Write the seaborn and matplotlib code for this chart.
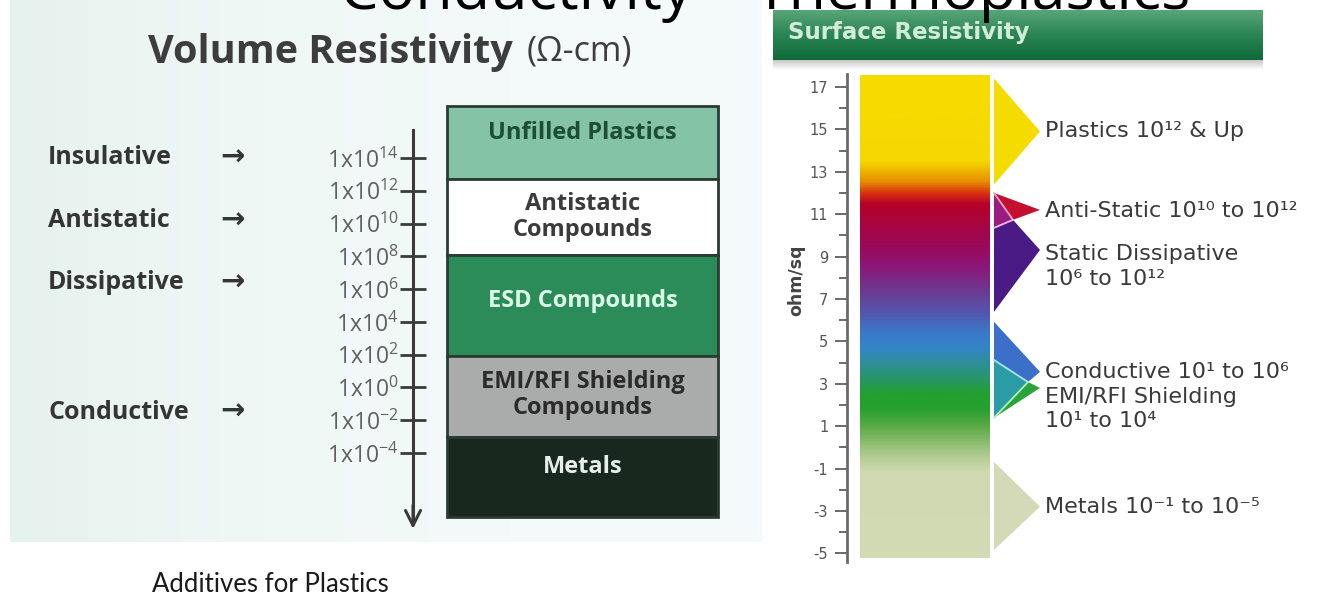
import numpy as np
import matplotlib
matplotlib.use("Agg")
import matplotlib.pyplot as plt
import seaborn as sns
from matplotlib.colors import LinearSegmentedColormap
from matplotlib.patches import Polygon

sns.set_theme(style="ticks")
plt.rcParams['font.family'] = ['Open Sans', 'DejaVu Sans']
plt.rcParams['mathtext.fontset'] = 'custom'
plt.rcParams['mathtext.rm'] = 'Open Sans'
plt.rcParams['mathtext.default'] = 'regular'

W, H = 1331, 600


def rect(x0, y0, x1, y1):
    # pixel box (origin top left) -> figure fraction [l, b, w, h]
    return [x0 / W, 1 - y1 / H, (x1 - x0) / W, (y1 - y0) / H]


# ---------------- data ----------------
# volume resistivity, exponent of ohm-cm
vol_ticks = [14, 12, 10, 8, 6, 4, 2, 0, -2, -4]
vol_classes = ["Insulative", "Antistatic", "Dissipative", "Conductive"]
vol_class_pos = [14, 10.2, 6.4, -1.5]
vol_materials = ["Unfilled Plastics", "Antistatic\nCompounds", "ESD Compounds",
                 "EMI/RFI Shielding\nCompounds", "Metals"]
vol_upper = [17.2, 12.7, 8.1, 1.9, -3.0]
vol_lower = [12.7, 8.1, 1.9, -3.0, -7.9]

# surface resistivity, exponent of ohm/sq
surf_ticks = [17, 15, 13, 11, 9, 7, 5, 3, 1, -1, -3, -5]
surf_minor = [16, 14, 12, 10, 8, 6, 4, 2, 0, -2, -4]
bar_top, bar_bottom = 17.55, -5.2
grad_vals = [-5.2, -1.2, -0.6, 0.2, 0.96, 1.75, 2.55, 3.3, 4.1, 4.7, 5.4, 6.3, 7.3,
             8.5, 9.45, 11.5, 12.0, 12.6, 13.56, 17.55]
grad_cols = ['#d3dbb5', '#d0d9b2', '#b8cf98', '#8cbd70', '#5cab48', '#28a030', '#22a030',
             '#2a9470', '#2e8ea0', '#3485c8', '#3a7ac8', '#5258b0', '#6a3c94',
             '#8a1878', '#9a0a5a', '#b5002a', '#d83010', '#e89000', '#f6d800', '#f6dc00']

rng_labels = ["Plastics 10¹² & Up", "Anti-Static 10¹⁰ to 10¹²",
              "Static Dissipative\n10⁶ to 10¹²", "Conductive 10¹ to 10⁶",
              "EMI/RFI Shielding\n10¹ to 10⁴", "Metals 10⁻¹ to 10⁻⁵"]
rng_label_pos = [14.9, 11.15, 8.54, 3.56, 1.81, -2.8]
plastics_v = [17.4, 14.9, 12.4]              # top, tip, bottom
antistatic_v = [12.0, 11.2, 10.73, 10.35]    # top, tip, fold, bottom
dissipative_v = [10.35, 10.73, 9.31, 6.39]   # top, fold, tip, bottom
conductive_v = [5.92, 3.56, 3.08, 4.12]      # top, tip, fold, seam
emi_v = [4.12, 3.08, 2.80, 1.39]             # seam, fold, tip, bottom
metals_v = [-0.69, -2.8, -4.84]              # top, tip, bottom

# ---------------- figure ----------------
fig = plt.figure(figsize=(W / 100, H / 100), dpi=100)
fig.patch.set_facecolor('white')

# left panel: volume resistivity
ax_v = fig.add_axes(rect(10, 0, 762, 542))
ax_v.set_xlim(10, 762)
ax_v.set_ylim(-9.43, 23.64)
bg = LinearSegmentedColormap.from_list('bg', ['#e6f2ee', '#f0f8f6', '#f3faf9', '#f4fbfa'])
ax_v.imshow(np.linspace(0, 1, 200).reshape(1, -1), cmap=bg, aspect='auto',
            extent=[10, 762, -9.43, 23.64], zorder=0)

vol_colors = ['#84c3a5', '#ffffff', '#2b8c59', '#a9acaa', '#18281f']
vol_text = ['#1d4d36', '#3b3b3b', '#dcfbe9', '#2b2b2b', '#e6efe9']
vol_nudge = [0.55, 0.0, 0.25, 0.1, 0.6]
heights = [u - l for u, l in zip(vol_upper, vol_lower)]
ax_v.bar(582.5, heights, bottom=vol_lower, width=271, color=vol_colors,
         edgecolor='#2b3b32', linewidth=2, zorder=2)
for name, u, l, c, dn in zip(vol_materials, vol_upper, vol_lower, vol_text, vol_nudge):
    ax_v.text(582.5, (u + l) / 2 + dn, name, ha='center', va='center', fontsize=17,
              fontweight='bold', color=c, linespacing=1.08, zorder=3)

for name, v in zip(vol_classes, vol_class_pos):
    ax_v.text(48, v, name, ha='left', va='center', fontsize=18, fontweight='bold', color='#353535')
    ax_v.text(220, v, '→', ha='left', va='center', fontsize=21, fontweight='bold',
              color='#353535', family=['DejaVu Sans'])

for s in ['top', 'right', 'bottom']:
    ax_v.spines[s].set_visible(False)
ax_v.spines['left'].set_position(('data', 413))
ax_v.spines['left'].set_bounds(-8.2, 15.7)
ax_v.spines['left'].set_linewidth(2.2)
ax_v.spines['left'].set_color('#3a3a3a')
ax_v.annotate('', xy=(413, -8.8), xytext=(413, -7.0),
              arrowprops=dict(arrowstyle='->,head_length=0.9,head_width=0.45',
                              lw=2.2, color='#3a3a3a'))
ax_v.set_xticks([])
ax_v.set_yticks(vol_ticks)
ax_v.set_yticklabels([f"1x10$^{{{t}}}$" for t in vol_ticks])
ax_v.tick_params(axis='y', left=True, direction='inout', length=19, width=2,
                 color='#3a3a3a', labelsize=16.5, labelcolor='#606060', pad=1)
ax_v.grid(False)

fig.text(148 / W, 1 - 52 / H, "Volume Resistivity", ha='left', va='center',
         fontsize=28.5, fontweight='bold', color='#3d3d3d')
fig.text(632 / W, 1 - 52 / H, "(Ω-cm)", ha='right', va='center',
         fontsize=24.5, color='#3d3d3d')

# header band
ax_h = fig.add_axes(rect(773, 10, 1263, 60))
hc = LinearSegmentedColormap.from_list('hdr', ['#0f6a3a', '#2a8454', '#58a57a'])
ax_h.imshow(np.linspace(0, 1, 60).reshape(-1, 1), cmap=hc, aspect='auto', origin='lower')
ax_h.axis('off')
ax_sh = fig.add_axes(rect(773, 60, 1263, 70))
sc = LinearSegmentedColormap.from_list('sh', ['#ffffff', '#c8c8c8'])
ax_sh.imshow(np.linspace(0, 1, 20).reshape(-1, 1), cmap=sc, aspect='auto', origin='lower')
ax_sh.axis('off')
fig.text(788 / W, 1 - 32 / H, "Surface Resistivity", ha='left', va='center', fontsize=16.5,
         fontweight='bold', color='#d2ecd9', family=['DejaVu Sans'])

# right panel: surface resistivity
ax_s = fig.add_axes(rect(847, 74, 1331, 562))
ax_s.set_xlim(0, 484)
ax_s.set_ylim(-5.41, 17.61)
ax_s.set_facecolor('none')
pos = [(v - bar_bottom) / (bar_top - bar_bottom) for v in grad_vals]
sc_map = LinearSegmentedColormap.from_list('surf', list(zip(pos, grad_cols)))
ax_s.imshow(np.linspace(bar_bottom, bar_top, 500).reshape(-1, 1), cmap=sc_map, origin='lower',
            aspect='auto', extent=[13, 143, bar_bottom, bar_top],
            vmin=bar_bottom, vmax=bar_top, zorder=1)

XB, XF1, XF2, XT = 147, 166, 181, 193
p, a, d, c, e, m = plastics_v, antistatic_v, dissipative_v, conductive_v, emi_v, metals_v
shapes = [
    ([(XB, p[0]), (XT, p[1]), (XB, p[2])], '#f4db00'),
    ([(XB, a[0]), (XT, a[1]), (XF1, a[2])], '#c4102e'),
    ([(XB, a[0]), (XF1, a[2]), (XB, a[3])], '#9a1c7e'),
    ([(XB, d[0]), (XF1, d[1]), (XT, d[2]), (XB, d[3])], '#4a1a85'),
    ([(XB, c[0]), (XT, c[1]), (XF2, c[2]), (XB, c[3])], '#3b6fc8'),
    ([(XB, e[0]), (XF2, e[1]), (XB, e[3])], '#2b9ba6'),
    ([(XF2, e[1]), (XT, e[2]), (XB, e[3])], '#2aa33b'),
    ([(XB, m[0]), (XT, m[1]), (XB, m[2])], '#d4dab8'),
]
for verts, col in shapes:
    ax_s.add_patch(Polygon(verts, closed=True, facecolor=col, edgecolor='none', zorder=2))
seams = [([XB, XF1], [a[0], a[2]], '#f2a6c4'), ([XB, XF1], [a[3], a[2]], '#f0b8e6'),
         ([XB, XF2], [c[3], c[2]], '#a8e4f2'), ([XF2, XB], [e[1], e[3]], '#b4f0b4')]
for xs, ys, col in seams:
    ax_s.plot(xs, ys, color=col, lw=1.3, zorder=3)

for lab, v in zip(rng_labels, rng_label_pos):
    ax_s.text(198, v, lab, ha='left', va='center', fontsize=16, color='#3a3a3a',
              family=['DejaVu Sans'], linespacing=1.3, zorder=4)

for s in ['top', 'right', 'bottom']:
    ax_s.spines[s].set_visible(False)
ax_s.spines['left'].set_linewidth(2)
ax_s.spines['left'].set_color('#6a6a6a')
ax_s.set_xticks([])
ax_s.set_yticks(surf_ticks)
ax_s.set_yticks(surf_minor, minor=True)
ax_s.set_yticklabels([str(t) for t in surf_ticks], family=['DejaVu Sans'])
ax_s.tick_params(axis='y', which='major', left=True, direction='out', length=8.5, width=1.4,
                 color='#6a6a6a', labelsize=10.5, labelcolor='#555555', pad=5)
ax_s.tick_params(axis='y', which='minor', left=True, direction='out', length=6, width=1.4,
                 color='#6a6a6a')
ax_s.set_ylabel("ohm/sq", fontsize=12.5, fontweight='bold', color='#444444', family=['DejaVu Sans'])
ax_s.yaxis.set_label_coords((805 - 847) / 484, 0.578)
ax_s.grid(False)

# slide title (cut off at the top) and caption
fig.text(765 / W, 1 - 9 / H, "Conductivity – Thermoplastics", ha='center', va='baseline',
         fontsize=44, color='black')
fig.text(152 / W, 1 - 585 / H, "Additives for Plastics", ha='left', va='center',
         fontsize=18.5, color='#1a1a1a', family=['Lato', 'DejaVu Sans'])

fig.savefig('out.png', dpi=100)
